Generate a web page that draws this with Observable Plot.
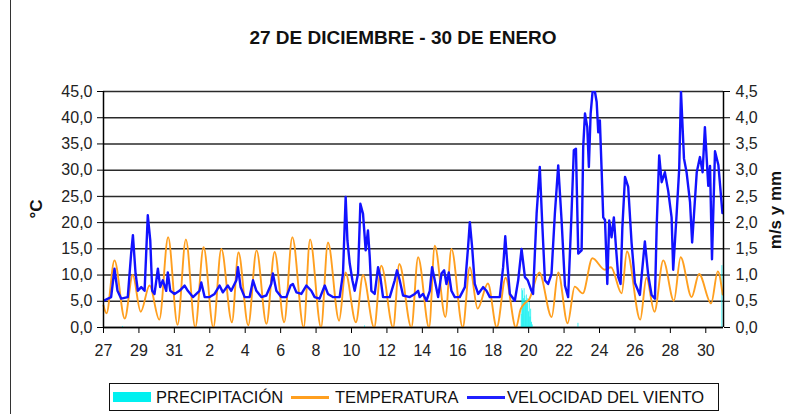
<!DOCTYPE html>
<html>
<head>
<meta charset="utf-8">
<script src="https://cdn.jsdelivr.net/npm/d3@7"></script>
<script src="https://cdn.jsdelivr.net/npm/@observablehq/plot@0.6"></script>
<style>
  html, body { margin: 0; padding: 0; background: #fff; }
  #wrap { position: relative; width: 793px; height: 414px; overflow: hidden; font-family: "Liberation Sans", Arial, sans-serif; }
  #frame { position: absolute; left: 10px; top: -2px; width: 1px; height: 420px; background: #333; }
  #title { position: absolute; left: 0; width: 806px; top: 27px; text-align: center; font-weight: bold; font-size: 19px; color: #111; }
  .ytitle { position: absolute; font-weight: bold; font-size: 17px; color: #111; white-space: nowrap; transform: translate(-50%, -50%) rotate(-90deg); }
  #chart { position: absolute; left: 0; top: 80px; }
  #legend { position: absolute; left: 109px; top: 383px; width: 610px; height: 28px; border: 1px solid #111; box-sizing: border-box; }
  .lg { position: absolute; font-size: 16.5px; color: #111; top: 4px; white-space: nowrap; }
  .sw { position: absolute; }
</style>
</head>
<body>
<div id="wrap">
  <div id="frame"></div>
  <div id="title">27 DE DICIEMBRE - 30 DE ENERO</div>
  <div class="ytitle" style="left:37px; top:209px;">°C</div>
  <div class="ytitle" style="left:776px; top:210px;">m/s y mm</div>
  <div id="chart"></div>
  <div id="legend">
    <div class="sw" style="left:3px; top:8px; width:38px; height:10px; background:#00F0F0;"></div>
    <div class="lg" style="left:46px;">PRECIPITACIÓN</div>
    <div class="sw" style="left:181px; top:12px; width:38px; height:3px; background:#FF9F1F;"></div>
    <div class="lg" style="left:225px;">TEMPERATURA</div>
    <div class="sw" style="left:357px; top:12px; width:38px; height:3px; background:#2020FF;"></div>
    <div class="lg" style="left:397px;">VELOCIDAD DEL VIENTO</div>
  </div>
</div>
<script>
// ---- axis ticks / labels ----
const leftTicks = [0, 5, 10, 15, 20, 25, 30, 35, 40, 45];
const leftTickLabels = ["0,0", "5,0", "10,0", "15,0", "20,0", "25,0", "30,0", "35,0", "40,0", "45,0"];
const rightTickLabels = ["0,0", "0,5", "1,0", "1,5", "2,0", "2,5", "3,0", "3,5", "4,0", "4,5"];
const xTickDays = [0, 2, 4, 6, 8, 10, 12, 14, 16, 18, 20, 22, 24, 26, 28, 30, 32, 34];
const xTickLabels = ["27", "29", "31", "2", "4", "6", "8", "10", "12", "14", "16", "18", "20", "22", "24", "26", "28", "30"];

// ---- temperature (°C), days since 27 Dec 00:00 ----
const tempDay = [0.00, 0.17, 0.62, 1.20, 1.65, 2.10, 2.60, 3.15, 3.65, 4.18, 4.65, 5.18, 5.65, 6.20, 6.65, 7.25, 7.62, 8.17, 8.64, 9.20,
  9.66, 10.20, 10.66, 11.30, 11.66, 12.28, 12.67, 13.30, 13.66, 14.25, 14.65, 15.28, 15.68, 16.35, 16.70, 17.38, 17.76, 18.38, 18.70, 19.30,
  19.64, 20.28, 20.68, 21.12, 21.70, 22.20, 22.70, 23.28, 23.55, 23.75, 24.05, 24.60, 25.30, 25.67, 26.20, 26.60, 27.05, 27.60, 28.30, 28.65,
  29.25, 29.55, 30.30, 30.65, 31.10, 31.60, 32.20, 32.58, 33.20, 33.62, 34.30, 34.68, 34.95];
const tempC = [4.2, 2.7, 12.8, 1.7, 10.0, 3.0, 8.0, 1.5, 17.2, 0.5, 16.8, 0.0, 15.3, 0.0, 15.0, 1.0, 14.3, 0.4, 14.7, 0.7,
  14.4, 1.0, 17.2, 0.0, 16.8, 0.0, 16.2, 1.3, 10.5, 1.0, 10.0, 0.0, 11.8, 0.0, 12.1, 0.0, 13.4, 0.0, 15.6, 2.0,
  15.0, 0.0, 11.5, 3.6, 8.4, 0.0, 9.5, 0.0, 3.5, 4.5, 5.5, 10.5, 2.0, 10.5, 0.8, 7.8, 6.5, 13.2, 11.0, 11.5,
  6.5, 14.5, 1.5, 9.5, 3.0, 12.8, 5.1, 13.4, 5.8, 10.2, 4.6, 10.7, 6.3];

// ---- wind speed (m/s) ----
const windDay = [0.00, 0.43, 0.62, 0.79, 1.00, 1.37, 1.56, 1.66, 1.81, 1.94, 2.13, 2.32, 2.50, 2.64, 2.75, 2.88, 3.07, 3.20, 3.35, 3.54,
  3.63, 3.77, 4.01, 4.29, 4.58, 4.76, 5.05, 5.42, 5.52, 5.71, 5.99, 6.27, 6.55, 6.74, 7.02, 7.21, 7.50, 7.59, 7.74, 7.97,
  8.25, 8.44, 8.63, 8.91, 9.19, 9.47, 9.56, 9.76, 10.04, 10.32, 10.56, 10.69, 10.89, 11.17, 11.45, 11.73, 11.92, 12.20, 12.49, 12.67,
  12.95, 13.33, 13.52, 13.67, 13.77, 13.90, 14.05, 14.18, 14.37, 14.50, 14.65, 14.80, 14.93, 15.03, 15.12, 15.31, 15.50, 15.63, 15.78, 16.16,
  16.44, 16.57, 16.72, 16.91, 17.29, 17.57, 17.76, 17.85, 18.04, 18.23, 18.42, 18.55, 18.70, 18.89, 19.08, 19.23, 19.36, 19.49, 19.64, 19.83,
  20.11, 20.40, 20.58, 20.68, 20.81, 20.96, 21.15, 21.43, 21.62, 21.81, 22.09, 22.37, 22.56, 22.68, 22.78, 22.94, 23.22, 23.41, 23.60, 23.79,
  23.95, 24.16, 24.25, 24.45, 24.63, 24.76, 24.92, 25.10, 25.29, 25.48, 25.67, 25.86, 26.05, 26.23, 26.42, 26.55, 26.67, 26.80, 26.99, 27.08,
  27.18, 27.31, 27.40, 27.50, 27.61, 27.74, 27.84, 27.93, 28.02, 28.12, 28.21, 28.31, 28.44, 28.55, 28.68, 28.81, 28.93, 29.06, 29.19, 29.29,
  29.44, 29.62, 29.81, 30.00, 30.28, 30.56, 30.75, 30.94, 31.13, 31.23, 31.37, 31.51, 31.69, 31.88, 32.07, 32.16, 32.35, 32.50, 32.60, 32.77,
  32.92, 33.11, 33.23, 33.49, 33.67, 33.82, 33.95, 34.14, 34.24, 34.35, 34.52, 34.71, 34.94];
const windMs = [0.51, 0.58, 1.12, 0.70, 0.55, 0.58, 1.41, 1.76, 1.03, 0.70, 0.77, 0.70, 2.14, 1.66, 0.70, 0.64, 1.12, 0.77, 0.90, 0.70,
  1.05, 0.70, 0.64, 0.70, 0.80, 0.70, 0.58, 0.70, 0.86, 0.58, 0.58, 0.64, 0.80, 0.67, 0.80, 0.70, 0.90, 1.15, 0.77, 0.58,
  0.58, 0.90, 0.70, 0.58, 0.61, 0.83, 1.03, 0.70, 0.58, 0.58, 0.80, 0.83, 0.67, 0.64, 0.80, 0.70, 0.58, 0.55, 0.80, 0.64,
  0.58, 0.58, 1.03, 2.49, 1.66, 1.22, 0.90, 0.70, 1.03, 2.36, 2.17, 1.47, 1.85, 1.34, 0.70, 0.64, 1.15, 0.96, 0.58, 0.58,
  0.90, 1.09, 0.90, 0.61, 0.58, 0.64, 0.70, 0.58, 0.64, 0.51, 0.70, 1.15, 0.90, 0.58, 1.03, 1.09, 0.83, 1.05, 0.70, 0.58,
  0.58, 0.77, 1.53, 2.01, 1.53, 0.83, 0.64, 0.77, 0.70, 0.58, 0.58, 0.58, 1.15, 1.74, 1.28, 0.64, 0.51, 0.90, 1.50, 0.96,
  0.90, 0.70, 0.64, 2.17, 3.06, 2.04, 0.90, 0.83, 1.02, 2.17, 3.09, 2.04, 0.80, 0.58, 2.17, 3.38, 3.41, 1.41, 1.47, 3.44,
  4.08, 3.82, 3.06, 4.08, 4.50, 4.50, 4.30, 3.72, 3.95, 3.00, 2.10, 2.05, 0.83, 2.04, 1.72, 2.10, 1.53, 0.96, 0.83, 1.90,
  2.87, 2.68, 1.62, 0.85, 0.62, 1.64, 1.00, 0.62, 0.55, 1.95, 3.28, 2.77, 2.96, 2.60, 2.10, 1.10, 2.14, 3.03, 4.50, 3.22,
  2.95, 2.39, 1.62, 2.96, 3.25, 2.96, 3.82, 2.70, 3.08, 1.30, 3.36, 3.10, 2.18];

// ---- precipitation (mm), hour index since 27 Dec 00:00 ----
const precipHour = [26, 354, 566, 567, 568, 569, 570, 571, 572, 573, 574, 575, 576, 577, 578, 579, 580, 581, 643, 838];
const precipMm = [0.02, 0.03, 0.25, 0.74, 0.70, 0.55, 0.74, 0.60, 0.50, 0.62, 0.45, 0.55, 0.30, 0.48, 0.20, 0.35, 0.10, 0.05, 0.08, 1.18];

const temp = tempDay.map((d, i) => ({d, v: tempC[i]}));
const wind = windDay.map((d, i) => ({d, v: windMs[i]}));
const rain = precipHour.map((h, i) => ({h, v: precipMm[i]}));

const chart = Plot.plot({
  width: 793,
  height: 285,
  marginLeft: 103,
  marginRight: 70,
  marginTop: 11,
  marginBottom: 38,
  style: {fontFamily: "'Liberation Sans', Arial, sans-serif", fontSize: "16px", color: "#222", background: "transparent", overflow: "visible"},
  x: {type: "linear", domain: [0, 35]},
  y: {type: "linear", domain: [0, 45]},
  marks: [
    Plot.ruleY(leftTicks, {stroke: "#2a2a2a", strokeWidth: 1.5}),
    Plot.rectY(rain, {x1: d => d.h / 24, x2: d => (d.h + 1) / 24, y1: 0, y2: d => d.v * 10, fill: "#00F0F0"}),
    Plot.line(temp, {x: "d", y: "v", stroke: "#FF9F1F", strokeWidth: 1.9, curve: "monotone-x"}),
    Plot.line(wind, {x: "d", y: d => d.v * 10, stroke: "#1212FF", strokeWidth: 2.4, clip: true}),
    Plot.ruleX([0, 35], {stroke: "#000", strokeWidth: 1.5}),
    Plot.ruleY([0], {stroke: "#000", strokeWidth: 1.5}),
    Plot.axisY({anchor: "left", ticks: leftTicks, tickFormat: d => leftTickLabels[leftTicks.indexOf(d)], tickSize: 6, tickPadding: 5, label: null, stroke: "#000"}),
    Plot.axisY({anchor: "right", ticks: leftTicks, tickFormat: d => rightTickLabels[leftTicks.indexOf(d)], tickSize: 6, tickPadding: 6, label: null, stroke: "#000"}),
    Plot.axisX({anchor: "bottom", ticks: xTickDays, tickFormat: d => xTickLabels[xTickDays.indexOf(d)], tickSize: 6, tickPadding: 11, label: null, stroke: "#000"})
  ]
});
document.getElementById("chart").appendChild(chart);
</script>
</body>
</html>
